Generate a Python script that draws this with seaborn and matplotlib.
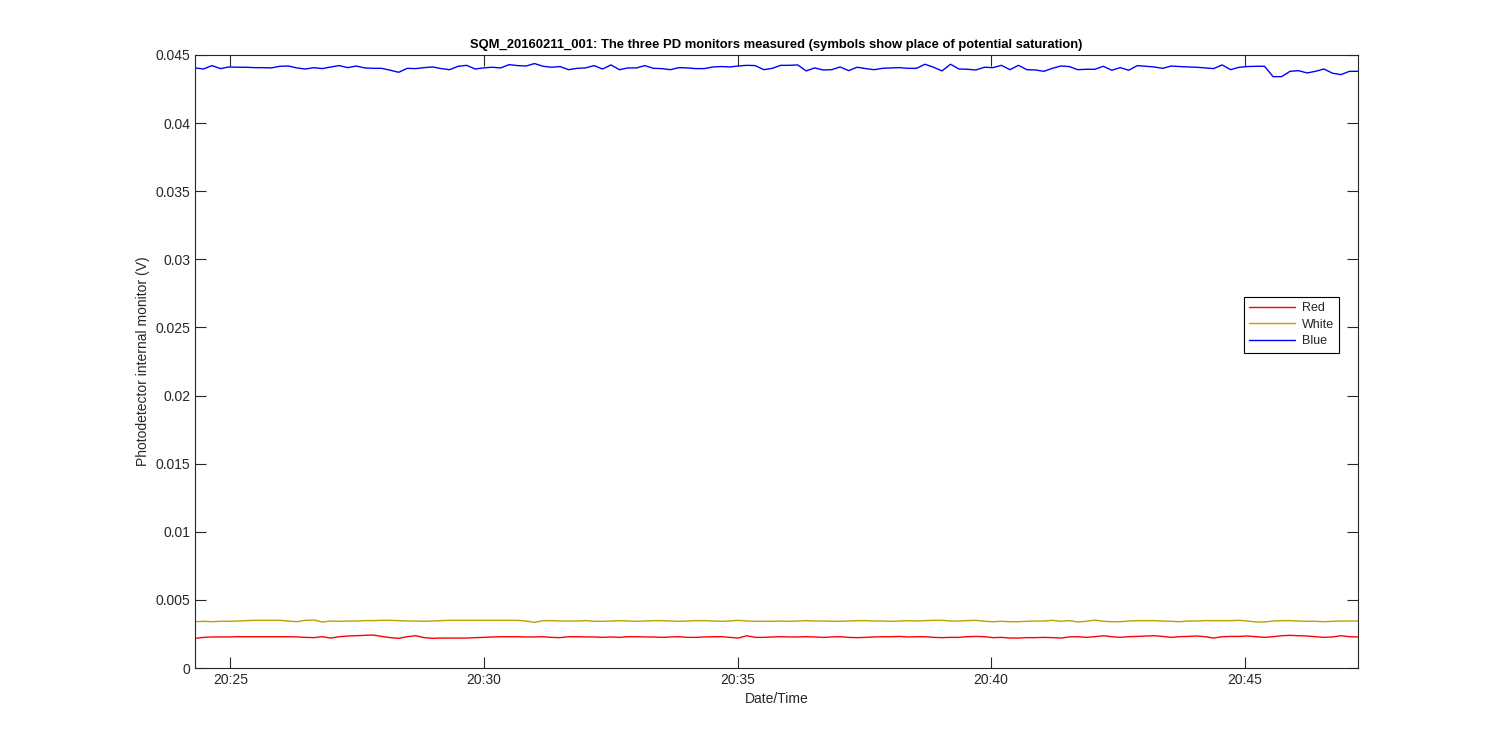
import pandas as pd
import seaborn as sns
import matplotlib.pyplot as plt
import matplotlib.dates as mdates

# readings every ~10 s, 20:24:18 .. 20:47:14
t_start = "2016-02-11 20:24:18"
t_end = "2016-02-11 20:47:14"
n_pts = 138

red = [0.00218, 0.00225, 0.00228, 0.00228, 0.00228, 0.00230, 0.00230, 0.00230, 0.00230, 0.00230,
       0.00230, 0.00230, 0.00228, 0.00225, 0.00223, 0.00230, 0.00220, 0.00230, 0.00235, 0.00237,
       0.00240, 0.00242, 0.00232, 0.00223, 0.00218, 0.00230, 0.00237, 0.00223, 0.00218, 0.00220,
       0.00220, 0.00220, 0.00220, 0.00223, 0.00225, 0.00228, 0.00230, 0.00230, 0.00230, 0.00228,
       0.00228, 0.00230, 0.00225, 0.00223, 0.00230, 0.00230, 0.00228,
       0.00228, 0.00225, 0.00228, 0.00225, 0.00230, 0.00230, 0.00228, 0.00228, 0.00225, 0.00228,
       0.00230, 0.00225, 0.00225, 0.00228, 0.00230, 0.00230, 0.00225, 0.00220, 0.00237, 0.00225,
       0.00225, 0.00228, 0.00230, 0.00228, 0.00228, 0.00230, 0.00228, 0.00225, 0.00228, 0.00230,
       0.00225, 0.00223, 0.00225, 0.00228, 0.00230, 0.00230, 0.00232, 0.00228, 0.00230, 0.00230,
       0.00225, 0.00223, 0.00225, 0.00225, 0.00230, 0.00232, 0.00230, 0.00223,
       0.00225, 0.00220, 0.00220, 0.00223, 0.00223, 0.00225, 0.00223, 0.00220, 0.00228, 0.00230,
       0.00225, 0.00230, 0.00237, 0.00230, 0.00225, 0.00230, 0.00232, 0.00235, 0.00237, 0.00232,
       0.00225, 0.00230, 0.00232, 0.00235, 0.00230, 0.00220, 0.00230, 0.00232, 0.00232, 0.00235,
       0.00230, 0.00225, 0.00230, 0.00237, 0.00240, 0.00237, 0.00235, 0.00230, 0.00225, 0.00228,
       0.00237, 0.00230, 0.00228]

white = [0.00340, 0.00343, 0.00340, 0.00343, 0.00343, 0.00345, 0.00348, 0.00350, 0.00350, 0.00350,
         0.00350, 0.00345, 0.00340, 0.00350, 0.00352, 0.00338, 0.00345, 0.00343, 0.00345, 0.00345,
         0.00348, 0.00348, 0.00350, 0.00350, 0.00348, 0.00345, 0.00345, 0.00343, 0.00345, 0.00348,
         0.00350, 0.00350, 0.00350, 0.00350, 0.00350, 0.00350, 0.00350, 0.00350, 0.00350, 0.00345,
         0.00335, 0.00348, 0.00348, 0.00345, 0.00345, 0.00345, 0.00348,
         0.00343, 0.00343, 0.00345, 0.00348, 0.00345, 0.00343, 0.00345, 0.00348, 0.00348, 0.00345,
         0.00343, 0.00345, 0.00348, 0.00348, 0.00345, 0.00343, 0.00345, 0.00350, 0.00345, 0.00343,
         0.00343, 0.00343, 0.00345, 0.00343, 0.00345, 0.00348, 0.00345, 0.00345, 0.00343, 0.00343,
         0.00345, 0.00348, 0.00348, 0.00345, 0.00345, 0.00343, 0.00345, 0.00348, 0.00345, 0.00348,
         0.00350, 0.00350, 0.00345, 0.00345, 0.00348, 0.00350, 0.00343, 0.00340,
         0.00343, 0.00340, 0.00340, 0.00343, 0.00345, 0.00345, 0.00350, 0.00343, 0.00348, 0.00338,
         0.00343, 0.00352, 0.00343, 0.00340, 0.00340, 0.00345, 0.00348, 0.00348, 0.00348, 0.00345,
         0.00343, 0.00340, 0.00345, 0.00345, 0.00348, 0.00348, 0.00348, 0.00348, 0.00350, 0.00345,
         0.00338, 0.00338, 0.00345, 0.00348, 0.00348, 0.00345, 0.00343, 0.00343, 0.00340, 0.00343,
         0.00345, 0.00345, 0.00345]

blue = [0.04405, 0.04397, 0.04422, 0.04400, 0.04412, 0.04410, 0.04410, 0.04407, 0.04407, 0.04405,
        0.04417, 0.04419, 0.04405, 0.04397, 0.04407, 0.04400, 0.04412, 0.04422, 0.04407, 0.04419,
        0.04405, 0.04402, 0.04402, 0.04388, 0.04373, 0.04402, 0.04400, 0.04407, 0.04412, 0.04400,
        0.04392, 0.04417, 0.04424, 0.04397, 0.04405,
        0.04410, 0.04405, 0.04429, 0.04422, 0.04419, 0.04437, 0.04417, 0.04410, 0.04415, 0.04392,
        0.04402, 0.04405, 0.04422, 0.04397, 0.04427, 0.04392, 0.04405, 0.04405, 0.04422, 0.04402,
        0.04400, 0.04392, 0.04407, 0.04405, 0.04400, 0.04400, 0.04412, 0.04415, 0.04412, 0.04419,
        0.04424, 0.04422, 0.04392, 0.04402,
        0.04424, 0.04424, 0.04427, 0.04383, 0.04405, 0.04390, 0.04392, 0.04412, 0.04385, 0.04410,
        0.04400, 0.04392, 0.04402, 0.04405, 0.04407, 0.04402, 0.04402, 0.04432, 0.04410, 0.04383,
        0.04432, 0.04397, 0.04395, 0.04390, 0.04410, 0.04407, 0.04424, 0.04392, 0.04424, 0.04392,
        0.04390, 0.04380, 0.04402, 0.04419,
        0.04415, 0.04392, 0.04395, 0.04395, 0.04417, 0.04388, 0.04407, 0.04388, 0.04422, 0.04417,
        0.04412, 0.04402, 0.04419, 0.04415, 0.04412, 0.04410, 0.04405, 0.04400, 0.04427, 0.04392,
        0.04410, 0.04415, 0.04417, 0.04417, 0.04341, 0.04341, 0.04380, 0.04385, 0.04368, 0.04380,
        0.04397, 0.04366, 0.04356, 0.04380, 0.04380]

labels = ["Red", "White", "Blue"]
colors = ["#ff0000", "#c0a000", "#0000ff"]
yticks = [0, 0.005, 0.01, 0.015, 0.02, 0.025, 0.03, 0.035, 0.04, 0.045]

times = pd.date_range(t_start, t_end, periods=n_pts)
df = pd.concat([pd.DataFrame({"time": times, "value": v, "monitor": lab})
                for v, lab in zip([red, white, blue], labels)])

sns.set_style("ticks")
plt.rcParams['font.family'] = ['Liberation Sans', 'DejaVu Sans']

fig = plt.figure(figsize=(15, 7.5), dpi=100)
ax = fig.add_axes([0.13, 0.1093, 0.7753, 0.8174])
sns.lineplot(data=df, x="time", y="value", hue="monitor", hue_order=labels,
             palette=colors, linewidth=1, ax=ax)

ax.set_xlim(times[0], times[-1])
ax.set_ylim(0, 0.045)
ax.set_yticks(yticks)
ax.set_yticklabels(["0"] + ["%g" % v for v in yticks[1:]])
ax.xaxis.set_major_locator(mdates.MinuteLocator(byminute=range(0, 60, 5)))
ax.xaxis.set_major_formatter(mdates.DateFormatter("%H:%M"))
ax.tick_params(direction="in", length=8, width=0.8, top=True, right=True,
               labelsize=10, colors="#262626")
for spine in ax.spines.values():
    spine.set_visible(True)
    spine.set_edgecolor("#262626")
    spine.set_linewidth(0.8)

ax.set_xlabel("Date/Time", fontsize=10, color="#262626")
ax.set_ylabel("Photodetector internal monitor (V)", fontsize=10, color="#262626")
ax.set_title("SQM_20160211_001: The three PD monitors measured (symbols show place of potential saturation)",
             fontsize=9.4, fontweight="bold", color="black", pad=5)

leg = ax.legend(loc="center right", bbox_to_anchor=(0.9895, 0.56), fontsize=9,
                frameon=True, fancybox=False, framealpha=1, edgecolor="black",
                handlelength=3.7, handletextpad=0.5, borderpad=0.45, labelspacing=0.35)
leg.get_frame().set_linewidth(0.8)

plt.savefig("out.png", dpi=100)
